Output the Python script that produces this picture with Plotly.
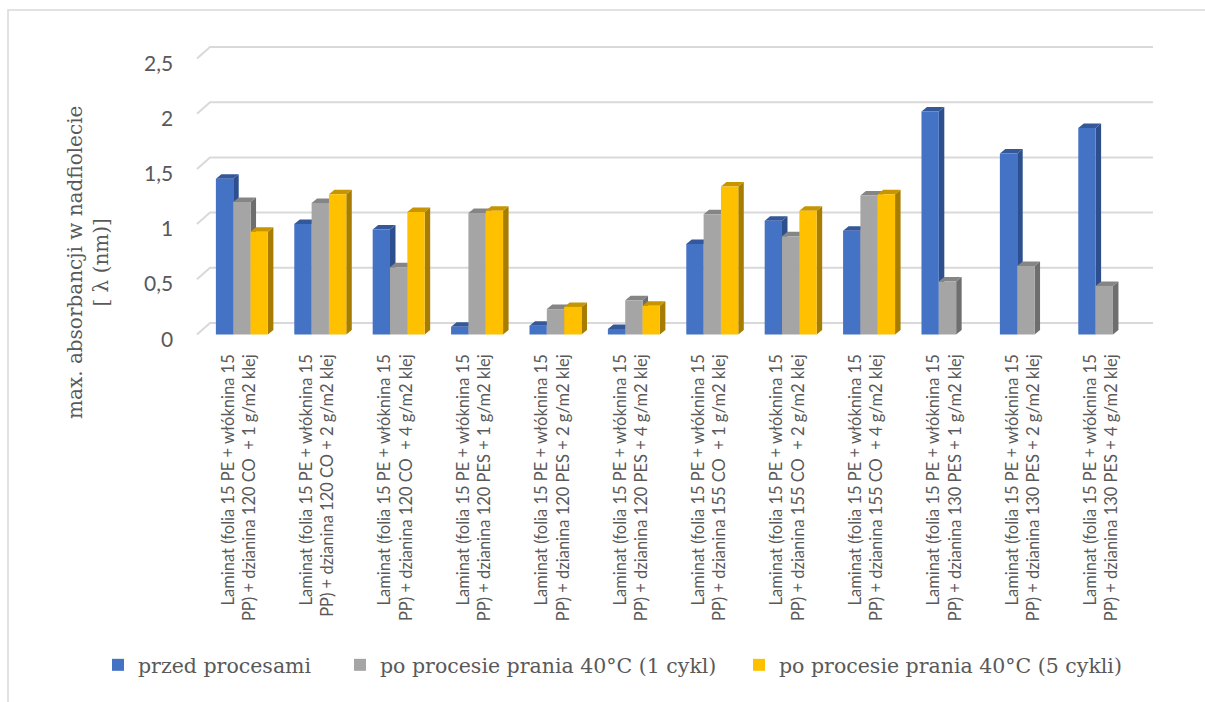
import plotly.graph_objects as go

# ---- data -------------------------------------------------------------
label_line1 = "Laminat (folia 15 PE + włóknina 15"
label_line2 = [
    "PP) + dzianina 120 CO  + 1 g/m2 klej",
    "PP) + dzianina 120 CO + 2 g/m2 klej",
    "PP) + dzianina 120 CO  + 4 g/m2 klej",
    "PP) + dzianina 120 PES + 1 g/m2 klej",
    "PP) + dzianina 120 PES + 2 g/m2 klej",
    "PP) + dzianina 120 PES + 4 g/m2 klej",
    "PP) + dzianina 155 CO  + 1 g/m2 klej",
    "PP) + dzianina 155 CO  + 2 g/m2 klej",
    "PP) + dzianina 155 CO  + 4 g/m2 klej",
    "PP) + dzianina 130 PES + 1 g/m2 klej",
    "PP) + dzianina 130 PES + 2 g/m2 klej",
    "PP) + dzianina 130 PES + 4 g/m2 klej",
]
categories = [label_line1 + "<br>" + l2 for l2 in label_line2]

przed_procesami = [1.41, 1.00, 0.95, 0.07, 0.08, 0.05, 0.82, 1.03, 0.94, 2.02, 1.64, 1.87]
pranie_1_cykl = [1.20, 1.19, 0.61, 1.10, 0.23, 0.31, 1.09, 0.89, 1.26, 0.48, 0.62, 0.44]
pranie_5_cykli = [0.93, 1.27, 1.11, 1.12, 0.25, 0.26, 1.34, 1.12, 1.27, None, None, None]

series_names = [
    "przed procesami",
    "po procesie prania 40°C (1 cykl)",
    "po procesie prania 40°C (5 cykli)",
]
series_values = [przed_procesami, pranie_1_cykl, pranie_5_cykli]

y_tickvals = [0, 0.5, 1, 1.5, 2, 2.5]
y_ticktext = ["0", "0,5", "1", "1,5", "2", "2,5"]

# ---- styling ----------------------------------------------------------
front_colors = ["#4472C4", "#A5A5A5", "#FFC000"]
side_colors = ["#2D4F8E", "#6E6E6E", "#A67D00"]
top_colors = ["#34589A", "#858585", "#C69500"]
legend_widths = [197, 354, 380]
text_grey = "#595959"
grid_grey = "#D9D9D9"

W, H = 1205, 702
PLOT_L, PLOT_R, PLOT_T, PLOT_B = 187, 1167, 40, 340
X_RANGE = [-0.7, 11.8]
PX_PER_Y = 110.4            # pixels per unit on the value axis
Y_ZERO_PX = 334.5           # pixel row of value 0 on the front plane
Y_RANGE = [(Y_ZERO_PX - PLOT_B) / PX_PER_Y, (Y_ZERO_PX - PLOT_T) / PX_PER_Y]
PX_PER_X = (PLOT_R - PLOT_L) / (X_RANGE[1] - X_RANGE[0])


def px_to_x(px):
    return X_RANGE[0] + (px - PLOT_L) / PX_PER_X


def px_to_paper_x(px):
    return (px - PLOT_L) / (PLOT_R - PLOT_L)


def px_to_paper_y(py):
    return (PLOT_B - py) / (PLOT_B - PLOT_T)


GROUP_W = 52.0 / PX_PER_X
BAR_W = GROUP_W / 3
DEPTH_X = 5.5 / PX_PER_X        # oblique depth of each column
DEPTH_Y = 4.5 / PX_PER_Y
WALL_X0 = px_to_x(197)          # front-left corner of the floor
WALL_X1 = px_to_x(210)          # back wall start
WALL_X2 = px_to_x(1153)         # back wall end
WALL_DY = 11.5 / PX_PER_Y       # back wall lifted by perspective
LABEL_SHIFT = 3.0 / PX_PER_X    # category labels sit slightly left of the group centre

fig = go.Figure()

# back wall gridlines with their slanted side-wall stubs
gx, gy = [], []
for v in y_tickvals:
    gx += [WALL_X0, WALL_X1, WALL_X2, None]
    gy += [v, v + WALL_DY, v + WALL_DY, None]
fig.add_trace(go.Scatter(x=gx, y=gy, mode="lines", line=dict(color=grid_grey, width=2),
                         hoverinfo="skip", showlegend=False, xaxis="x", yaxis="y"))

# side and top faces of the columns (drawn beneath the front faces)
for k, vals in enumerate(series_values):
    sx, sy, tx, ty = [], [], [], []
    for i, v in enumerate(vals):
        if v is None:
            continue
        x0 = i - GROUP_W / 2 + k * BAR_W
        x1 = x0 + BAR_W
        sx += [x1, x1 + DEPTH_X, x1 + DEPTH_X, x1, x1, None]
        sy += [0, DEPTH_Y, v + DEPTH_Y, v, 0, None]
        tx += [x0, x0 + DEPTH_X, x1 + DEPTH_X, x1, x0, None]
        ty += [v, v + DEPTH_Y, v + DEPTH_Y, v, v, None]
    fig.add_trace(go.Scatter(x=sx, y=sy, mode="lines", fill="toself", fillcolor=side_colors[k],
                             line=dict(width=0, color=side_colors[k]), hoverinfo="skip",
                             showlegend=False, xaxis="x", yaxis="y"))
    fig.add_trace(go.Scatter(x=tx, y=ty, mode="lines", fill="toself", fillcolor=top_colors[k],
                             line=dict(width=0, color=top_colors[k]), hoverinfo="skip",
                             showlegend=False, xaxis="x", yaxis="y"))

# front faces of the columns on an overlaid subplot so they sit above the faces
for k, vals in enumerate(series_values):
    fig.add_trace(go.Bar(
        x=list(range(len(categories))), y=vals, name=series_names[k],
        width=BAR_W, offset=-GROUP_W / 2 + k * BAR_W,
        marker=dict(color=front_colors[k], line=dict(width=0)),
        xaxis="x2", yaxis="y2", legendwidth=legend_widths[k],
    ))

# value-axis labels, set a little below their gridline as on the front plane
annotations = [
    dict(text=t, x=px_to_paper_x(175), y=v, xref="paper", yref="y", yshift=-3.5,
         xanchor="right", yanchor="middle", showarrow=False,
         font=dict(family="Lato", size=21, color=text_grey))
    for v, t in zip(y_tickvals, y_ticktext)
]
annotations.append(dict(
    text="max. absorbancji w nadfiolecie<br>[ λ (nm)]", textangle=-90,
    xref="paper", yref="paper", x=px_to_paper_x(88), y=px_to_paper_y(263),
    xanchor="center", yanchor="middle", showarrow=False,
    font=dict(family="DejaVu Serif", size=20, color=text_grey),
))

fig.update_layout(
    width=W, height=H,
    margin=dict(l=PLOT_L, r=W - PLOT_R, t=PLOT_T, b=H - PLOT_B, autoexpand=False),
    paper_bgcolor="white", plot_bgcolor="rgba(0,0,0,0)",
    barmode="overlay",
    separators=", ",
    xaxis=dict(range=X_RANGE, tickvals=[i - LABEL_SHIFT for i in range(len(categories))],
               ticktext=categories,
               tickangle=-90, showgrid=False, zeroline=False, showline=False, ticks="",
               ticklabelstandoff=10,
               tickfont=dict(family="Lato", size=16.5, color=text_grey)),
    yaxis=dict(range=Y_RANGE, showticklabels=False, showgrid=False,
               zeroline=False, showline=False, ticks=""),
    xaxis2=dict(range=X_RANGE, overlaying="x", visible=False),
    yaxis2=dict(range=Y_RANGE, overlaying="y", visible=False),
    legend=dict(orientation="h", x=px_to_paper_x(98), y=px_to_paper_y(665),
                xanchor="left", yanchor="middle", traceorder="normal",
                font=dict(family="DejaVu Serif", size=20.5, color=text_grey)),
    annotations=annotations,
    shapes=[dict(type="rect", xref="paper", yref="paper",
                 x0=px_to_paper_x(8), y0=px_to_paper_y(720),
                 x1=px_to_paper_x(1230), y1=px_to_paper_y(10),
                 line=dict(color=grid_grey, width=1.5), fillcolor="rgba(0,0,0,0)",
                 layer="below")],
)

fig.write_html("out.html")
